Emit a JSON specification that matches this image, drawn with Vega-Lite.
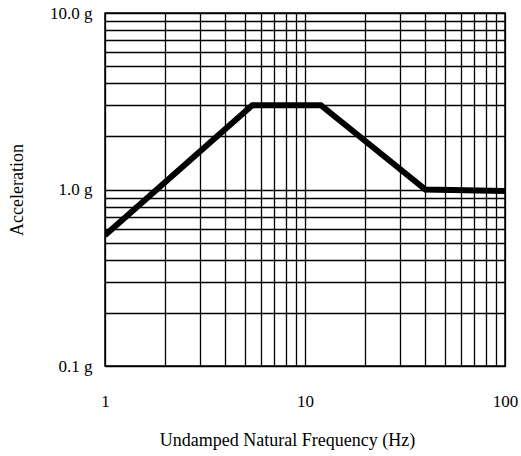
{
  "$schema": "https://vega.github.io/schema/vega-lite/v6.json",
  "autosize": {"type": "none"},
  "width": 400,
  "height": 353,
  "padding": {"left": 105, "top": 13, "right": 16, "bottom": 90},
  "background": "white",
  "config": {
    "view": {"stroke": "black", "strokeWidth": 1.5},
    "font": "Liberation Serif"
  },
  "data": {
    "values": [
      {"freq": 1, "acc": 0.55},
      {"freq": 5.45, "acc": 3.0},
      {"freq": 12, "acc": 3.0},
      {"freq": 40, "acc": 1.0},
      {"freq": 100, "acc": 0.98}
    ]
  },
  "mark": {"type": "line", "color": "black", "strokeWidth": 6, "strokeJoin": "miter", "clip": true},
  "encoding": {
    "x": {
      "field": "freq",
      "type": "quantitative",
      "scale": {"type": "log", "domain": [1, 100], "nice": false},
      "axis": {
        "values": [1, 2, 3, 4, 5, 6, 7, 8, 9, 10, 20, 30, 40, 50, 60, 70, 80, 90, 100],
        "labelExpr": "datum.value == 1 ? '1' : datum.value == 10 ? '10' : datum.value == 100 ? '100' : ''",
        "grid": true,
        "gridColor": "black",
        "gridOpacity": 1,
        "gridWidth": 1.3,
        "ticks": false,
        "domain": false,
        "labelFont": "Liberation Serif",
        "labelFontSize": 17,
        "labelColor": "black",
        "labelPadding": 27,
        "labelFlush": false,
        "labelOverlap": false,
        "title": "Undamped Natural Frequency (Hz)",
        "titleFont": "Liberation Serif",
        "titleFontSize": 18,
        "titleFontWeight": "normal",
        "titleColor": "black",
        "titlePadding": 22,
        "titleX": 182,
        "titleAlign": "center"
      }
    },
    "y": {
      "field": "acc",
      "type": "quantitative",
      "scale": {"type": "log", "domain": [0.1, 10], "nice": false},
      "axis": {
        "values": [0.1, 0.2, 0.3, 0.4, 0.5, 0.6, 0.7, 0.8, 0.9, 1, 2, 3, 4, 5, 6, 7, 8, 9, 10],
        "labelExpr": "datum.value == 10 ? '10.0 g' : datum.value == 1 ? '1.0 g' : datum.value == 0.1 ? '0.1 g' : ''",
        "grid": true,
        "gridColor": "black",
        "gridOpacity": 1,
        "gridWidth": 1.3,
        "ticks": false,
        "domain": false,
        "labelFont": "Liberation Serif",
        "labelFontSize": 17,
        "labelColor": "black",
        "labelPadding": 13,
        "labelOverlap": false,
        "labelFlush": false,
        "title": "Acceleration",
        "titleFont": "Liberation Serif",
        "titleFontSize": 18,
        "titleFontWeight": "normal",
        "titleColor": "black",
        "titlePadding": 23
      }
    }
  }
}
